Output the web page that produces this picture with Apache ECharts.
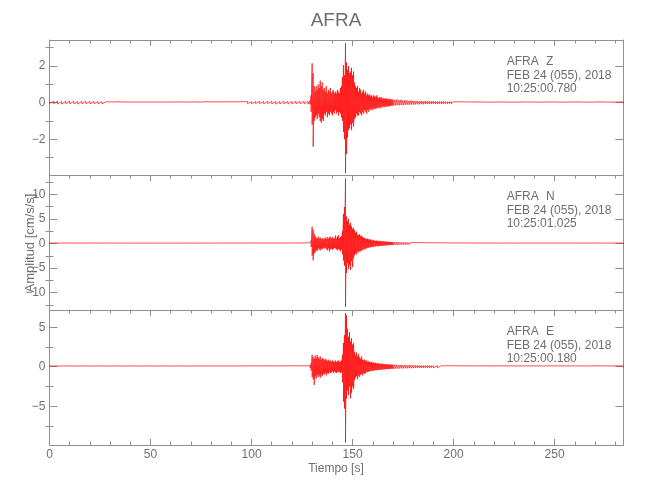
<!DOCTYPE html>
<html><head><meta charset="utf-8">
<script src="https://cdn.jsdelivr.net/npm/echarts@6/dist/echarts.min.js"></script>
<style>html,body{margin:0;padding:0;background:#fff}#c{width:650px;height:500px}</style>
</head><body><div id="c"></div>
<script>
// ---- DATA: envelope samples [time (s), max, min] ----
var stationName = "AFRA";
var dateText = "FEB 24 (055), 2018";
var components = ["Z", "N", "E"];
var startTimes = ["10:25:00.780", "10:25:01.025", "10:25:00.180"];
var xTicks = [0, 50, 100, 150, 200, 250];
var yTicksZ = [-2, 0, 2], yMinorZ = [-3, -1, 1, 3];
var yTicksN = [-10, -5, 0, 5, 10], yMinorN = [-12.5, -7.5, -2.5, 2.5, 7.5, 12.5];
var yTicksE = [-5, 0, 5], yMinorE = [-7.5, -2.5, 2.5];
var yRangeZ = [-3.95, 3.42], yRangeN = [-13.52, 13.92], yRangeE = [-9.91, 7.18];

var envZ = [
[0,0.06,-0.05],[2,0.07,-0.06],[4,0.08,-0.07],[6,0.06,-0.08],[8,0.07,-0.06],[10,0.09,-0.07],[12,0.08,-0.06],[14,0.06,-0.08],[16,0.07,-0.07],[18,0.08,-0.06],[20,0.06,-0.07],[22,0.07,-0.06],[24,0.06,-0.07],[26,0.05,-0.06],[28,0.05,-0.05],[30,0.04,-0.05],[32,0.04,-0.04],[34,0.05,-0.04],[36,0.04,-0.04],[38,0.03,-0.04],[40,0.04,-0.03],[42,0.03,-0.04],[44,0.04,-0.03],[46,0.03,-0.03],[48,0.04,-0.04],[50,0.03,-0.03],[52,0.04,-0.04],[54,0.03,-0.04],[56,0.04,-0.03],[58,0.03,-0.04],[60,0.04,-0.03],[62,0.03,-0.03],[64,0.04,-0.04],[66,0.04,-0.03],[68,0.03,-0.04],[70,0.04,-0.04],[72,0.04,-0.03],[74,0.03,-0.04],[76,0.04,-0.04],[78,0.05,-0.04],[80,0.04,-0.05],[82,0.05,-0.04],[84,0.04,-0.04],[86,0.05,-0.05],[88,0.04,-0.04],[90,0.05,-0.05],[92,0.04,-0.05],[94,0.05,-0.04],[96,0.05,-0.05],[98,0.06,-0.05],[100,0.05,-0.06],[102,0.06,-0.05],[104,0.07,-0.06],[106,0.06,-0.07],[108,0.07,-0.06],[110,0.08,-0.07],[112,0.07,-0.08],[114,0.06,-0.07],[116,0.08,-0.06],[118,0.07,-0.08],[120,0.06,-0.07],[122,0.08,-0.07],[124,0.07,-0.06],[126,0.08,-0.07],[128,0.07,-0.08],[129,0.1,-0.1],[129.5,0.4,-0.5],
[130,2.15,-1.2],[130.5,1.6,-2.4],[131,0.9,-1.0],[131.5,0.6,-0.8],[132,0.9,-0.7],[132.5,0.7,-0.9],[133,1.0,-0.6],[133.5,0.8,-0.8],[134,1.2,-1.0],[134.5,0.9,-1.1],[135,1.1,-0.9],[135.5,0.7,-1.0],[136,0.8,-0.6],[136.5,0.6,-0.7],[137,0.9,-0.5],[137.5,0.5,-0.8],[138,0.7,-0.6],[138.5,0.6,-0.7],[139,0.8,-0.5],[139.5,0.5,-0.6],[140,0.6,-0.7],[140.5,0.7,-0.5],[141,0.5,-0.6],[141.5,0.6,-0.4],[142,0.5,-0.6],[142.5,0.7,-0.5],[143,0.6,-0.7],[143.5,0.5,-0.5],[144,0.8,-0.6],[144.5,0.9,-0.8],[145,1.4,-1.0],[145.5,2.05,-1.6],[146,1.5,-2.0],[146.5,3.25,-3.85],[147,2.2,-2.8],[147.5,1.8,-1.9],[148,2.0,-1.5],[148.5,1.6,-1.4],[149,1.7,-1.2],[149.5,1.9,-1.5],[150,1.5,-1.1],[150.5,1.7,-1.3],[151,1.1,-0.9],[151.5,0.9,-0.8],[152,0.8,-0.6],[152.5,0.9,-0.7],[153,0.6,-0.7],[153.5,0.8,-0.5],[154,0.7,-0.6],[154.5,0.5,-0.7],[155,0.6,-0.5],[155.5,0.7,-0.6],[156,0.5,-0.4],[156.5,0.6,-0.5],[157,0.4,-0.6],[157.5,0.5,-0.4],[158,0.4,-0.5],[158.5,0.45,-0.35],[159,0.35,-0.4],[159.5,0.4,-0.3],[160,0.3,-0.4],[160.5,0.4,-0.35],[161,0.35,-0.3],[161.5,0.3,-0.35],[162,0.4,-0.3],[162.5,0.3,-0.25],[163,0.25,-0.3],[163.5,0.3,-0.25],[164,0.25,-0.3],[164.5,0.3,-0.2],[165,0.2,-0.25],[165.5,0.25,-0.2],[166,0.2,-0.25],[166.5,0.25,-0.2],[167,0.2,-0.2],[167.5,0.18,-0.22],[168,0.22,-0.18],[168.5,0.18,-0.2],[169,0.2,-0.15],[169.5,0.15,-0.18],[170,0.18,-0.15],
[171,0.15,-0.16],[172,0.18,-0.14],[173,0.14,-0.15],[174,0.16,-0.13],[175,0.12,-0.14],[176,0.14,-0.12],[177,0.12,-0.11],[178,0.1,-0.12],[179,0.12,-0.1],[180,0.1,-0.11],[181,0.09,-0.1],[182,0.1,-0.09],[183,0.08,-0.09],[184,0.09,-0.08],[185,0.08,-0.09],[186,0.09,-0.07],[187,0.07,-0.08],[188,0.08,-0.07],[189,0.07,-0.08],[190,0.08,-0.06],[191,0.07,-0.07],[192,0.06,-0.07],[193,0.07,-0.06],[194,0.06,-0.07],[195,0.07,-0.06],[196,0.06,-0.06],[197,0.05,-0.06],[198,0.06,-0.05],[199,0.05,-0.06],[200,0.05,-0.05],[202,0.04,-0.05],[204,0.05,-0.04],[206,0.04,-0.04],[208,0.04,-0.04],[210,0.03,-0.04],
[212,0.04,-0.03],[216,0.03,-0.04],[220,0.03,-0.03],[224,0.04,-0.03],[228,0.03,-0.04],[232,0.03,-0.03],[236,0.04,-0.03],[240,0.03,-0.04],[244,0.03,-0.03],[248,0.04,-0.03],[252,0.03,-0.04],[256,0.03,-0.03],[260,0.04,-0.03],[264,0.03,-0.04],[268,0.03,-0.03],[272,0.04,-0.03],[276,0.03,-0.04],[280,0.03,-0.03],[284,0.04,-0.03]
];

var envN = [
[0,0.1,-0.08],[4,0.08,-0.1],[8,0.1,-0.09],[12,0.09,-0.08],[16,0.08,-0.1],[20,0.1,-0.08],[24,0.08,-0.09],[28,0.09,-0.08],[32,0.08,-0.08],[36,0.09,-0.07],[40,0.07,-0.08],[44,0.08,-0.08],[48,0.08,-0.07],[52,0.07,-0.08],[56,0.08,-0.07],[60,0.07,-0.08],[64,0.08,-0.08],[68,0.08,-0.07],[72,0.07,-0.08],[76,0.08,-0.08],[80,0.08,-0.09],[84,0.09,-0.08],[88,0.08,-0.09],[92,0.09,-0.08],[96,0.08,-0.09],[100,0.1,-0.09],[104,0.09,-0.1],[108,0.1,-0.09],[112,0.09,-0.1],[116,0.1,-0.1],[120,0.11,-0.1],[124,0.1,-0.11],[128,0.12,-0.1],[129,0.15,-0.14],[129.5,0.6,-0.7],
[130,3.4,-2.5],[130.5,2.8,-3.4],[131,2.0,-2.0],[131.5,1.5,-1.8],[132,1.2,-1.4],[132.5,1.0,-1.5],[133,1.4,-1.0],[133.5,1.0,-1.2],[134,1.2,-1.4],[134.5,0.9,-1.0],[135,1.1,-1.2],[135.5,0.8,-0.9],[136,1.0,-1.0],[136.5,1.2,-0.8],[137,0.9,-1.1],[137.5,1.3,-1.4],[138,1.0,-1.0],[138.5,1.2,-1.6],[139,1.4,-1.2],[139.5,1.0,-1.0],[140,1.3,-1.3],[140.5,1.0,-1.1],[141,1.1,-0.9],[141.5,1.6,-1.0],[142,1.0,-1.2],[142.5,1.4,-1.4],[143,1.7,-1.1],[143.5,1.1,-1.3],[144,1.3,-1.6],[144.5,1.5,-1.2],[145,2.5,-2.2],[145.5,6.0,-3.5],[146,7.4,-4.5],[146.5,13.2,-12.9],[147,5.5,-6.0],[147.5,4.5,-4.0],[148,5.0,-5.2],[148.5,3.8,-4.4],[149,4.2,-5.4],[149.5,3.5,-3.6],[150,3.0,-4.8],[150.5,3.2,-3.0],[151,2.7,-2.4],[151.5,2.2,-2.0],[152,2.4,-2.2],[152.5,1.8,-1.6],[153,1.7,-1.8],[153.5,1.9,-1.5],[154,1.5,-1.6],[154.5,1.6,-1.3],[155,1.3,-1.4],[155.5,1.2,-1.1],[156,1.1,-1.2],[156.5,1.0,-1.0],[157,0.9,-1.0],[157.5,1.0,-0.8],[158,0.8,-0.9],[158.5,0.9,-0.7],[159,0.7,-0.8],[159.5,0.8,-0.7],[160,0.6,-0.7],[160.5,0.7,-0.6],[161,0.6,-0.6],[161.5,0.5,-0.6],[162,0.6,-0.5],[162.5,0.5,-0.5],[163,0.5,-0.6],[163.5,0.55,-0.45],[164,0.45,-0.5],[164.5,0.5,-0.45],[165,0.4,-0.45],[165.5,0.45,-0.4],[166,0.4,-0.4],[166.5,0.35,-0.4],[167,0.4,-0.35],[167.5,0.35,-0.35],[168,0.3,-0.35],[168.5,0.35,-0.3],[169,0.3,-0.3],[169.5,0.28,-0.3],[170,0.3,-0.28],
[171,0.3,-0.28],[172,0.26,-0.3],[173,0.28,-0.25],[174,0.24,-0.27],[175,0.25,-0.23],[176,0.22,-0.24],[177,0.23,-0.21],[178,0.2,-0.22],[179,0.21,-0.19],[180,0.19,-0.2],[181,0.18,-0.19],[182,0.19,-0.17],[183,0.17,-0.18],[184,0.16,-0.17],[185,0.17,-0.15],[186,0.15,-0.16],[187,0.16,-0.14],[188,0.14,-0.15],[189,0.15,-0.14],[190,0.13,-0.14],[192,0.14,-0.12],[194,0.12,-0.13],[196,0.13,-0.12],[198,0.12,-0.11],[200,0.11,-0.12],[202,0.12,-0.1],[204,0.1,-0.11],[206,0.11,-0.1],[208,0.1,-0.1],[210,0.09,-0.1],
[212,0.1,-0.08],[216,0.08,-0.09],[220,0.09,-0.08],[224,0.08,-0.09],[228,0.09,-0.08],[232,0.08,-0.08],[236,0.09,-0.08],[240,0.08,-0.09],[244,0.08,-0.08],[248,0.09,-0.08],[252,0.08,-0.09],[256,0.08,-0.08],[260,0.09,-0.08],[264,0.08,-0.09],[268,0.08,-0.08],[272,0.09,-0.08],[276,0.08,-0.09],[280,0.08,-0.08],[284,0.09,-0.08]
];

var envE = [
[0,0.1,-0.09],[4,0.09,-0.1],[8,0.1,-0.1],[12,0.09,-0.09],[16,0.1,-0.1],[20,0.09,-0.09],[24,0.1,-0.1],[28,0.09,-0.1],[32,0.1,-0.09],[36,0.09,-0.1],[40,0.1,-0.09],[44,0.09,-0.09],[48,0.1,-0.1],[52,0.09,-0.09],[56,0.1,-0.1],[60,0.09,-0.09],[64,0.1,-0.1],[68,0.09,-0.09],[72,0.1,-0.1],[76,0.1,-0.09],[80,0.09,-0.1],[84,0.1,-0.1],[88,0.1,-0.09],[92,0.09,-0.1],[96,0.1,-0.1],[100,0.11,-0.1],[104,0.1,-0.11],[108,0.11,-0.1],[112,0.1,-0.11],[116,0.11,-0.11],[120,0.12,-0.11],[124,0.11,-0.12],[128,0.12,-0.11],[129,0.15,-0.15],[129.5,0.4,-0.5],
[130,1.5,-1.3],[130.5,1.2,-1.6],[131,1.0,-2.3],[131.5,1.4,-1.2],[132,1.1,-1.5],[132.5,1.5,-1.0],[133,1.2,-1.3],[133.5,1.0,-1.1],[134,1.3,-1.4],[134.5,0.9,-1.0],[135,1.1,-1.2],[135.5,1.0,-0.9],[136,0.8,-1.0],[136.5,1.0,-0.8],[137,0.9,-1.1],[137.5,0.7,-0.8],[138,0.9,-0.9],[138.5,0.7,-0.7],[139,0.8,-0.8],[139.5,0.6,-0.7],[140,0.8,-0.6],[140.5,0.7,-0.8],[141,0.6,-0.6],[141.5,0.8,-0.7],[142,0.6,-0.8],[142.5,0.7,-0.6],[143,0.8,-0.7],[143.5,0.6,-0.6],[144,0.7,-0.8],[144.5,0.8,-0.7],[145,1.5,-2.0],[145.5,3.0,-4.4],[146,4.0,-5.3],[146.5,6.8,-9.6],[147,6.5,-4.0],[147.5,4.8,-3.0],[148,3.8,-3.6],[148.5,4.4,-2.5],[149,3.2,-4.0],[149.5,3.6,-3.3],[150,2.8,-2.5],[150.5,3.0,-2.8],[151,1.9,-1.7],[151.5,1.5,-1.4],[152,1.8,-1.2],[152.5,1.3,-1.6],[153,1.6,-1.1],[153.5,1.2,-1.3],[154,1.0,-1.0],[154.5,1.3,-0.9],[155,0.9,-1.1],[155.5,0.8,-0.8],[156,0.9,-0.9],[156.5,0.7,-0.8],[157,0.8,-0.6],[157.5,0.6,-0.7],[158,0.7,-0.6],[158.5,0.6,-0.6],[159,0.55,-0.5],[159.5,0.6,-0.55],[160,0.5,-0.5],[160.5,0.55,-0.45],[161,0.45,-0.5],[161.5,0.5,-0.4],[162,0.4,-0.45],[162.5,0.45,-0.4],[163,0.4,-0.38],[163.5,0.38,-0.4],[164,0.35,-0.38],[164.5,0.4,-0.35],[165,0.35,-0.33],[165.5,0.33,-0.35],[166,0.3,-0.33],[166.5,0.33,-0.3],[167,0.3,-0.3],[167.5,0.28,-0.3],[168,0.3,-0.27],[168.5,0.27,-0.28],[169,0.28,-0.25],[169.5,0.25,-0.27],[170,0.27,-0.25],
[171,0.25,-0.26],[172,0.24,-0.22],[173,0.22,-0.24],[174,0.23,-0.2],[175,0.2,-0.22],[176,0.21,-0.19],[177,0.19,-0.2],[178,0.2,-0.18],[179,0.18,-0.19],[180,0.17,-0.18],[181,0.18,-0.16],[182,0.16,-0.17],[183,0.17,-0.15],[184,0.15,-0.16],[185,0.16,-0.15],[186,0.15,-0.14],[187,0.14,-0.15],[188,0.15,-0.14],[189,0.14,-0.13],[190,0.13,-0.14],[192,0.14,-0.13],[194,0.13,-0.12],[196,0.12,-0.13],[198,0.13,-0.12],[200,0.12,-0.12],[202,0.12,-0.11],[204,0.11,-0.12],[206,0.12,-0.11],[208,0.11,-0.11],[210,0.11,-0.1],
[212,0.1,-0.11],[216,0.11,-0.1],[220,0.1,-0.1],[224,0.11,-0.1],[228,0.1,-0.11],[232,0.1,-0.1],[236,0.11,-0.1],[240,0.1,-0.1],[244,0.1,-0.11],[248,0.11,-0.1],[252,0.1,-0.1],[256,0.1,-0.11],[260,0.11,-0.1],[264,0.1,-0.1],[268,0.1,-0.11],[272,0.11,-0.1],[276,0.1,-0.1],[280,0.1,-0.11],[284,0.11,-0.1]
];

// ---- CHART ----
var FONT = "'Liberation Sans',Arial,sans-serif";
var LINE = '#8f8f8f', TEXT = '#6e6e6e', RED = '#ff0000';
var GL = 49.5, GR = 26.7;
var panelTops = [40, 175, 310], PH = 135;
var yTicks = [yTicksZ, yTicksN, yTicksE];
var yMinor = [yMinorZ, yMinorN, yMinorE];
var yRanges = [yRangeZ, yRangeN, yRangeE];
var envs = [envZ, envN, envE];

function trace(env) {
  var out = [];
  env.forEach(function (r) { out.push([r[0], r[1]]); out.push([r[0], r[2]]); });
  return out;
}
function minusFmt(v) { return String(v).replace('-', '\u2212'); }

var grids = [], xAxes = [], yAxes = [], series = [], graphics = [];
for (var g = 0; g < 3; g++) {
  grids.push({ left: GL, right: GR, top: panelTops[g], height: PH });
  var isBottom = g === 2;
  xAxes.push({
    gridIndex: g, type: 'value', position: 'bottom', min: 0, max: 284, interval: 50,
    axisLine: { show: true, onZero: false, lineStyle: { color: LINE, width: 1 } },
    axisTick: { show: isBottom, inside: true, length: 6, lineStyle: { color: LINE } },
    minorTick: { show: isBottom, splitNumber: 5, length: 3.5, lineStyle: { color: LINE } },
    axisLabel: { show: isBottom, customValues: xTicks, color: TEXT, fontFamily: FONT, fontSize: 12, margin: 4 },
    splitLine: { show: false }
  });
  xAxes.push({
    gridIndex: g, type: 'value', position: 'top', min: 0, max: 284, interval: 50,
    axisLine: { show: true, onZero: false, lineStyle: { color: LINE, width: 1 } },
    axisTick: { show: true, inside: true, length: 6, lineStyle: { color: LINE } },
    minorTick: { show: true, splitNumber: 5, length: 3.5, lineStyle: { color: LINE } },
    axisLabel: { show: false }, splitLine: { show: false }
  });
  var r = yRanges[g];
  yAxes.push({
    gridIndex: g, type: 'value', position: 'left', min: r[0], max: r[1],
    axisLine: { show: true, onZero: false, lineStyle: { color: LINE } },
    axisTick: { show: true, inside: true, length: 8, customValues: yTicks[g], lineStyle: { color: LINE } },
    axisLabel: { show: true, customValues: yTicks[g], formatter: minusFmt, color: TEXT, fontFamily: FONT, fontSize: 12, margin: 4 },
    splitLine: { show: false }
  });
  yAxes.push({
    gridIndex: g, type: 'value', position: 'left', min: r[0], max: r[1],
    axisLine: { show: false },
    axisTick: { show: true, inside: true, length: 4, customValues: yMinor[g], lineStyle: { color: LINE } },
    axisLabel: { show: false }, splitLine: { show: false }
  });
  yAxes.push({
    gridIndex: g, type: 'value', position: 'right', min: r[0], max: r[1],
    axisLine: { show: true, onZero: false, lineStyle: { color: LINE } },
    axisTick: { show: true, inside: true, length: 8, customValues: yTicks[g], lineStyle: { color: LINE } },
    axisLabel: { show: false }, splitLine: { show: false }
  });
  yAxes.push({
    gridIndex: g, type: 'value', position: 'right', min: r[0], max: r[1],
    axisLine: { show: false },
    axisTick: { show: true, inside: true, length: 4, customValues: yMinor[g], lineStyle: { color: LINE } },
    axisLabel: { show: false }, splitLine: { show: false }
  });
  series.push({
    type: 'line', xAxisIndex: 2 * g, yAxisIndex: 4 * g, data: trace(envs[g]),
    showSymbol: false, symbol: 'none', clip: true,
    lineStyle: { color: RED, width: 0.7 }, silent: true
  });
  var tx = 506.7, ty = panelTops[g];
  graphics.push({ type: 'text', x: tx, y: ty + 22, style: { text: stationName, fill: TEXT, font: '12px ' + FONT, textAlign: 'left', textVerticalAlign: 'middle' } });
  graphics.push({ type: 'text', x: 546, y: ty + 22, style: { text: components[g], fill: TEXT, font: '12px ' + FONT, textAlign: 'left', textVerticalAlign: 'middle' } });
  graphics.push({ type: 'text', x: tx, y: ty + 35.5, style: { text: dateText, fill: TEXT, font: '12px ' + FONT, textAlign: 'left', textVerticalAlign: 'middle' } });
  graphics.push({ type: 'text', x: tx, y: ty + 49, style: { text: startTimes[g], fill: TEXT, font: '12px ' + FONT, textAlign: 'left', textVerticalAlign: 'middle' } });
}
graphics.push({ type: 'text', x: 336, y: 21, style: { text: stationName, fill: TEXT, font: '19px ' + FONT, textAlign: 'center', textVerticalAlign: 'middle' } });
graphics.push({ type: 'text', x: 336, y: 469, style: { text: 'Tiempo [s]', fill: TEXT, font: '12px ' + FONT, textAlign: 'center', textVerticalAlign: 'middle' } });
graphics.push({ type: 'text', x: 30, y: 243, rotation: Math.PI / 2, style: { text: 'Amplitud [cm/s/s]', fill: TEXT, font: '13px ' + FONT, textAlign: 'center', textVerticalAlign: 'middle' } });

var chart = echarts.init(document.getElementById('c'), null, { renderer: 'canvas' });
chart.setOption({
  animation: false,
  backgroundColor: '#ffffff',
  grid: grids, xAxis: xAxes, yAxis: yAxes, series: series, graphic: graphics
});
</script></body></html>
